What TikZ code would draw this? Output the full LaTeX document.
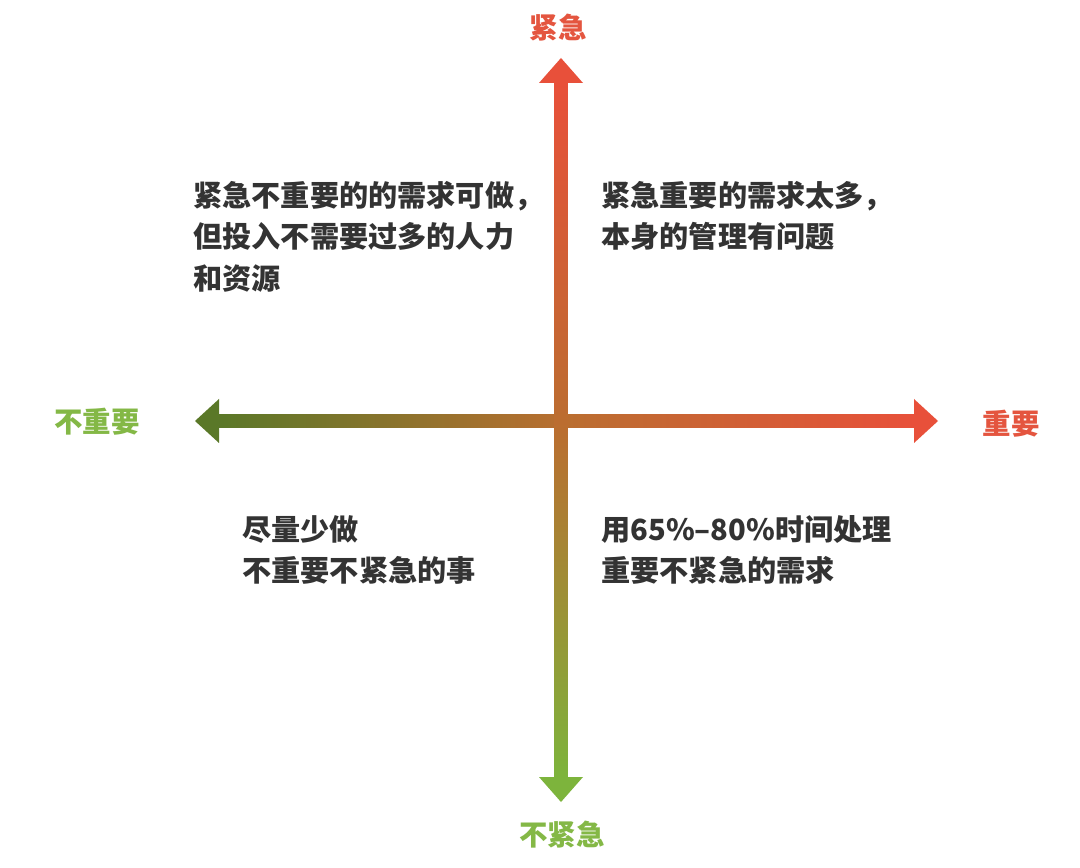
\documentclass[tikz,border=0pt]{standalone}
\usepackage{fontspec}
\newfontfamily\cjk{Noto Sans CJK SC}
\usetikzlibrary{positioning, calc}
\definecolor{urgred}{HTML}{E8503A}
\definecolor{labred}{HTML}{E4553F}
\definecolor{lowgreen}{HTML}{7DB43C}
\definecolor{labgreen}{HTML}{84B846}
\definecolor{darkgreen}{HTML}{5A7828}
\definecolor{midbrown}{HTML}{BA6E30}
\definecolor{txtgray}{HTML}{333333}

\begin{document}
\begin{tikzpicture}[x=0.02cm, y=-0.02cm,
  quad/.style={anchor=north west, inner sep=0pt, align=left, text=txtgray,
    font=\cjk\bfseries\fontsize{16.6}{23.6}\selectfont},
  axislabel/.style={inner sep=0pt, font=\cjk\bfseries\fontsize{16.2}{16}\selectfont}]
\useasboundingbox[fill=white] (0,0) rectangle (1080,868);

\coordinate (top) at (561,58);
\coordinate (bottom) at (561,802);
\coordinate (left) at (195,421);
\coordinate (right) at (938,421);

% axes
\shade[left color=darkgreen, right color=urgred, middle color=midbrown]
  ($(left)+(23,-6.5)$) rectangle ($(right)+(-23,6.5)$);
\shade[top color=urgred, bottom color=lowgreen, middle color=midbrown]
  ($(top)+(-6.5,24)$) rectangle ($(bottom)+(6.5,-24)$);

\fill[urgred] (top) -- ++(-22,25) -- ++(44,0) -- cycle;
\fill[lowgreen] (bottom) -- ++(-22,-25) -- ++(44,0) -- cycle;
\fill[darkgreen] (left) -- ++(24,-22) -- ++(0,44) -- cycle;
\fill[urgred] (right) -- ++(-24,-22) -- ++(0,44) -- cycle;

\node[axislabel, text=labred] (urgent) at (558,28) {紧急};
\node[axislabel, text=labgreen] (noturgent) at (562,835) {不紧急};
\node[axislabel, text=labgreen] (unimportant) at (97,422) {不重要};
\node[axislabel, text=labred] (important) at (1011,424) {重要};

\node[quad] (q2) at (193,181) {紧急不重要的的需求可做，\\但投入不需要过多的人力\\和资源};
\node[quad] (q1) at (601,181) {紧急重要的需求太多，\\本身的管理有问题};
\node[quad] (q3) at (242,515) {尽量少做\\不重要不紧急的事};
\node[quad] (q4) at (601,515) {用65\%–80\%时间处理\\重要不紧急的需求};

\end{tikzpicture}
\end{document}
